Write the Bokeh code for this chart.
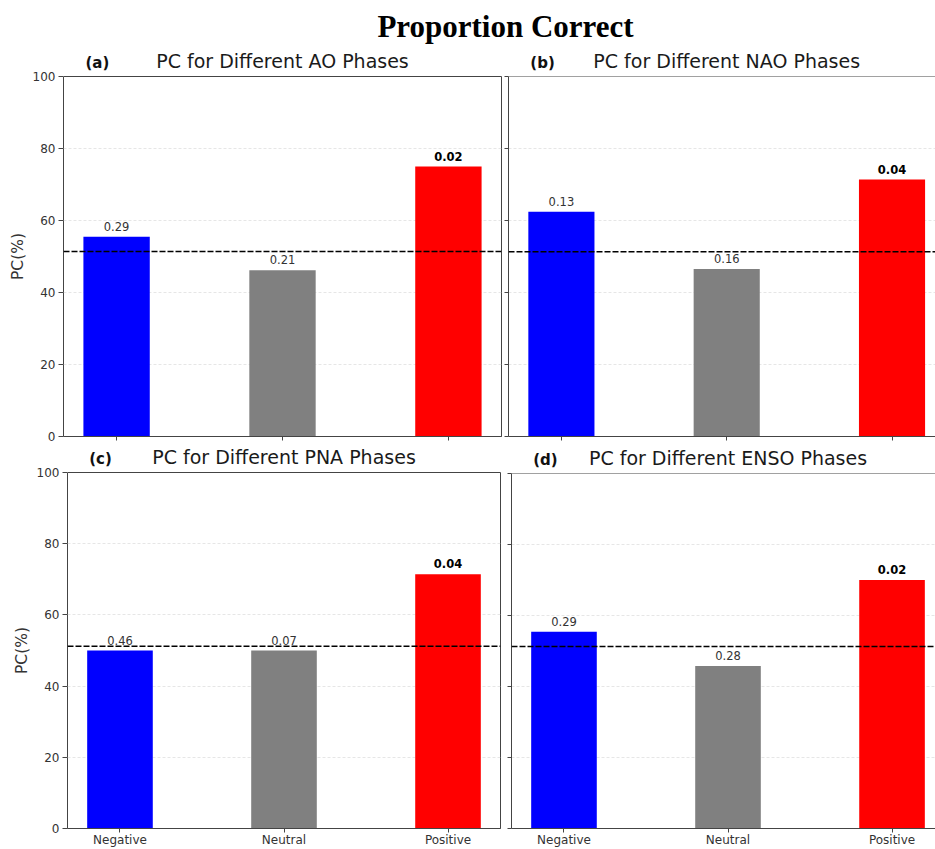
from bokeh.plotting import figure
from bokeh.models import Span, Label, FixedTicker
from bokeh.layouts import column, row
from bokeh.embed import file_html
from bokeh.resources import INLINE
from bokeh.core.properties import value

# ---- data -------------------------------------------------------------
categories = ["Negative", "Neutral", "Positive"]
bar_colors = ["#0000ff", "#808080", "#ff0000"]

ao_pc = [55.5, 46.2, 75.0]
ao_p = ["0.29", "0.21", "0.02"]

nao_pc = [62.4, 46.5, 71.4]
nao_p = ["0.13", "0.16", "0.04"]

pna_pc = [50.0, 50.0, 71.4]
pna_p = ["0.46", "0.07", "0.04"]

enso_pc = [55.4, 45.8, 70.0]
enso_p = ["0.29", "0.28", "0.02"]

# overall proportion correct (dashed reference line) per index
overall_pc = [51.4, 51.3, 51.2, 51.3]

y_ticks = [0, 20, 40, 60, 80, 100]

FONT = "DejaVu Sans"
AXIS_COLOR = "#444444"
X_LO, X_HI = -0.32, 2.32
BASE_SHIFT = 0.3   # lift (in em) applied to alphabetic-baseline glyph text
TITLE_SHIFT = 0.4  # same correction for the Label annotations
TITLE_GAP = 7.5    # px between a panel title's baseline and the frame top


def blank(width, height, x_range, y_range, left=0, right=0, top=0, bottom=0):
    f = figure(width=width, height=height, x_range=x_range, y_range=y_range,
               toolbar_location=None, output_backend="svg", title=None,
               min_border_left=left, min_border_right=right,
               min_border_top=top, min_border_bottom=bottom)
    f.axis.visible = False
    f.grid.visible = False
    f.outline_line_color = None
    f.background_fill_color = "white"
    f.border_fill_color = "white"
    return f


def style_axis(ax):
    ax.axis_line_color = AXIS_COLOR
    ax.major_tick_line_color = AXIS_COLOR
    ax.minor_tick_line_color = None
    ax.major_tick_out = 4
    ax.major_tick_in = 0
    ax.major_label_text_font = FONT
    ax.major_label_text_color = "#333333"
    ax.major_label_text_font_size = "12px"


def y_axis_column(panel, *, width, height, top, bottom):
    """Stand-alone labelled y axis that shares the panel's y scale."""
    a = blank(width, height, (0, 1), panel.y_range, left=width - 1, right=0,
              top=top, bottom=bottom)
    a.yaxis.visible = True
    ax = a.yaxis[0]
    style_axis(ax)
    ax.axis_line_color = None
    ax.major_tick_in = 1
    ax.ticker = FixedTicker(ticks=y_ticks)
    ax.major_label_standoff = 3
    ax.axis_label = "PC(%)"
    ax.axis_label_text_font = FONT
    ax.axis_label_text_font_style = "normal"
    ax.axis_label_text_font_size = "15.5px"
    ax.axis_label_text_color = "#333333"
    ax.axis_label_standoff = 3
    return a


def make_panel(tag, title, pcs, pvals, ref_pc, *, width, strip_h, height, left,
               right, top, bottom, x_end, y_ticks_only, x_labels, boxed):
    xs = list(range(len(categories)))
    p = figure(width=width, height=height, x_range=(X_LO, x_end), y_range=(0, 100),
               toolbar_location=None, output_backend="svg", title=None,
               min_border_left=left, min_border_right=right,
               min_border_top=top, min_border_bottom=bottom)
    p.background_fill_color = "white"
    p.border_fill_color = "white"
    frame_h = height - top - bottom
    ppu = frame_h / 100.0

    p.vbar(x=xs, top=pcs, width=0.4, color=bar_colors, line_color=None)

    # p-value annotations above each bar; significant ones in bold
    for i, (v, s) in enumerate(zip(pcs, pvals)):
        sig = float(s) < 0.05
        p.text(x=[xs[i]], y=[v + (7.0 + BASE_SHIFT * 11.5) / ppu], text=[s],
               text_font=value(FONT), text_font_size="11.5px",
               text_font_style="bold" if sig else "normal",
               text_color="#000000" if sig else "#333333",
               text_align="center", text_baseline="alphabetic")

    p.add_layout(Span(location=ref_pc, dimension="width", line_color="black",
                      line_dash="6 2", line_width=1.5))

    # grid
    p.xgrid.visible = False
    p.ygrid.ticker = FixedTicker(ticks=[20, 40, 60, 80])
    p.ygrid.grid_line_color = "#e0e0e0"
    p.ygrid.grid_line_dash = "3 2"
    p.ygrid.grid_line_width = 0.8

    # axes
    style_axis(p.xaxis[0])
    p.xaxis.ticker = FixedTicker(ticks=xs)
    if y_ticks_only:
        style_axis(p.yaxis[0])
        p.yaxis.ticker = FixedTicker(ticks=y_ticks)
        p.yaxis.major_label_overrides = {t: "" for t in y_ticks}
        p.yaxis.major_label_text_font_size = "1px"
        p.yaxis.major_label_standoff = 0
    else:
        p.yaxis.visible = False
    if x_labels:
        p.xaxis.major_label_overrides = {i: c for i, c in zip(xs, categories)}
        p.xaxis.major_label_standoff = 0
    else:
        p.xaxis.major_label_overrides = {i: "" for i in xs}
        p.xaxis.major_label_text_font_size = "1px"
        p.xaxis.major_label_standoff = 0

    if boxed:
        p.outline_line_color = AXIS_COLOR
        p.outline_line_width = 1
    else:
        p.outline_line_color = None
        p.add_layout(Span(location=100, dimension="width",
                          line_color=AXIS_COLOR, line_width=1))

    # title strip sharing the panel's x scale
    s = blank(width, strip_h, p.x_range, (0, strip_h), left=left, right=right)
    base = TITLE_GAP - top  # baseline height above the strip's bottom edge
    s.add_layout(Label(x=X_LO + 0.05 * (X_HI - X_LO), y=base + TITLE_SHIFT * 15,
                       text=tag, text_font=FONT, text_font_style="bold",
                       text_font_size="15px", text_color="#111111",
                       text_align="left", text_baseline="alphabetic"))
    s.add_layout(Label(x=(X_LO + X_HI) / 2, y=base + TITLE_SHIFT * 19, text=title,
                       text_font=FONT, text_font_size="19px", text_color="#1a1a1a",
                       text_align="center", text_baseline="alphabetic"))
    return p, column(s, p)


# ---- suptitle ---------------------------------------------------------
head = blank(935, 45, (0, 935), (0, 45))
head.add_layout(Label(x=505, y=10 + BASE_SHIFT * 31, text="Proportion Correct",
                      text_font="Liberation Serif", text_font_style="bold",
                      text_font_size="31px", text_color="black",
                      text_align="center", text_baseline="alphabetic"))

# ---- panels -----------------------------------------------------------
fa, pa = make_panel("(a)", "PC for Different AO Phases", ao_pc, ao_p, overall_pc[0],
                    width=439, strip_h=29, height=372, left=0, right=1, top=2,
                    bottom=10, x_end=X_HI, y_ticks_only=False, x_labels=False,
                    boxed=True)
fb, pb = make_panel("(b)", "PC for Different NAO Phases", nao_pc, nao_p, overall_pc[1],
                    width=433, strip_h=29, height=372, left=6, right=0, top=2,
                    bottom=10, x_end=2.263, y_ticks_only=True, x_labels=False,
                    boxed=False)
fc, pc = make_panel("(c)", "PC for Different PNA Phases", pna_pc, pna_p, overall_pc[2],
                    width=435, strip_h=24, height=379, left=0, right=2, top=2,
                    bottom=21, x_end=X_HI, y_ticks_only=False, x_labels=True,
                    boxed=True)
fd, pd = make_panel("(d)", "PC for Different ENSO Phases", enso_pc, enso_p, overall_pc[3],
                    width=433, strip_h=24, height=379, left=9, right=0, top=3,
                    bottom=21, x_end=2.265, y_ticks_only=True, x_labels=True,
                    boxed=False)

ya = y_axis_column(fa, width=63, height=401, top=31, bottom=10)
yc = y_axis_column(fc, width=67, height=403, top=26, bottom=21)

layout = column(head, row(ya, pa, pb), row(yc, pc, pd))

with open("out.html", "w") as f:
    f.write(file_html(layout, INLINE))
